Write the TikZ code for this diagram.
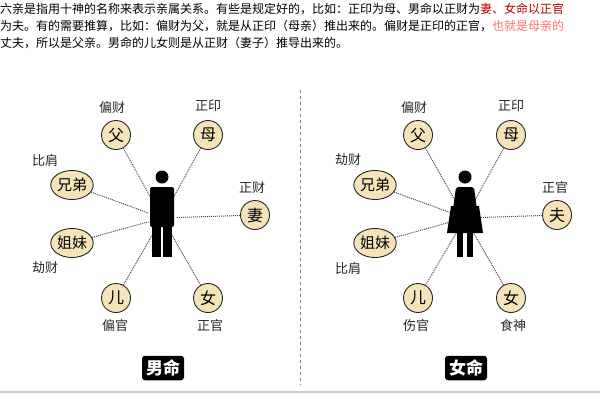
\documentclass[tikz,border=0pt]{standalone}
\usepackage{fontspec}
\usetikzlibrary{shapes.geometric}
\setmainfont{Noto Sans CJK SC}
\newfontfamily\cjk{Noto Sans CJK SC}
\definecolor{tan}{RGB}{245,228,185}
\begin{document}
\begin{tikzpicture}[x=1pt,y=-1pt,
  rel/.style={circle,draw=black!85,line width=0.9pt,fill=tan,minimum size=29pt,inner sep=0pt,font=\fontsize{16}{16}\selectfont},
  relw/.style={ellipse,draw=black!85,line width=0.9pt,fill=tan,minimum width=40pt,minimum height=29pt,inner sep=0pt,font=\fontsize{15}{15}\selectfont},
  lab/.style={font=\fontsize{13}{13}\selectfont,text=black!85},
  conn/.style={densely dotted,line width=1pt,black!70},
  title/.style={fill=black,text=white,rounded corners=3pt,font=\bfseries\fontsize{17}{17}\selectfont,inner sep=4pt},
  body/.style={fill=black}]
\useasboundingbox (0,0) rectangle (600,400);
\fill[white] (0,0) rectangle (600,400);
% top text
\node[anchor=west,font=\fontsize{12}{13}\selectfont,inner sep=0] (t1) at (0,9) {六亲是指用十神的名称来表示亲属关系。有些是规定好的，比如：正印为母、男命以正财为\textcolor{red!70!black}{妻、女命以正官}};
\node[anchor=west,font=\fontsize{12}{13}\selectfont,inner sep=0] (t2) at (0,26) {为夫。有的需要推算，比如：偏财为父，就是从正印（母亲）推出来的。偏财是正印的正官，\textcolor{red!40!pink}{也就是母亲的}};
\node[anchor=west,font=\fontsize{12}{13}\selectfont,inner sep=0] (t3) at (0,43) {丈夫，所以是父亲。男命的儿女则是从正财（妻子）推导出来的。};
% divider
\draw[dashed,black!50,line width=0.8pt] (300,90) coordinate (d1) -- (300,385) coordinate (d2);
\draw[black!20,line width=2pt] (0,392) coordinate (b1) -- (600,392) coordinate (b2);
% ---- male ----
\coordinate (m) at (162,218);
\node[rel] (a1) at (116,135) {父};
\node[rel] (a2) at (208,135) {母};
\node[relw] (a3) at (72,185) {兄弟};
\node[rel] (a4) at (255,215) {妻};
\node[relw] (a5) at (72,243) {姐妹};
\node[rel] (a6) at (116,298) {儿};
\node[rel] (a7) at (208,298) {女};
\foreach \n in {a1,a2,a3,a4,a5,a6,a7} \draw[conn,shorten >=14pt] (\n) -- (m);
\fill (162,177) circle (6.5);
\fill[rounded corners=2pt] (150,187) rectangle (174,227);
\fill (152,222) rectangle (161,257);
\fill (163,222) rectangle (172,257);
\node[lab] (l1) at (112,108) {偏财};
\node[lab] (l2) at (208,106) {正印};
\node[lab] (l3) at (45,160) {比肩};
\node[lab] (l4) at (252,188) {正财};
\node[lab] (l5) at (45,268) {劫财};
\node[lab] (l6) at (115,326) {偏官};
\node[lab] (l7) at (210,326) {正官};
\node[title] (tm) at (163,368) {男命};
% ---- female ----
\coordinate (f) at (465,218);
\node[rel] (c1) at (418,135) {父};
\node[rel] (c2) at (511,135) {母};
\node[relw] (c3) at (375,185) {兄弟};
\node[rel] (c4) at (557,215) {夫};
\node[relw] (c5) at (375,243) {姐妹};
\node[rel] (c6) at (418,298) {儿};
\node[rel] (c7) at (511,298) {女};
\foreach \n in {c1,c2,c3,c4,c5,c6,c7} \draw[conn,shorten >=14pt] (\n) -- (f);
\fill (465,177) circle (6.5);
\fill[rounded corners=2pt] (456,187) -- (474,187) -- (477,210) -- (453,210) -- cycle;
\fill (451,206) -- (479,206) -- (483,233) -- (447,233) -- cycle;
\fill (457,232) rectangle (463,257);
\fill (467,232) rectangle (473,257);
\node[lab] (k1) at (414,108) {偏财};
\node[lab] (k2) at (511,106) {正印};
\node[lab] (k3) at (348,160) {劫财};
\node[lab] (k4) at (555,188) {正官};
\node[lab] (k5) at (348,268) {比肩};
\node[lab] (k6) at (416,326) {伤官};
\node[lab] (k7) at (513,326) {食神};
\node[title] (tf) at (466,368) {女命};
\end{tikzpicture}
\end{document}
